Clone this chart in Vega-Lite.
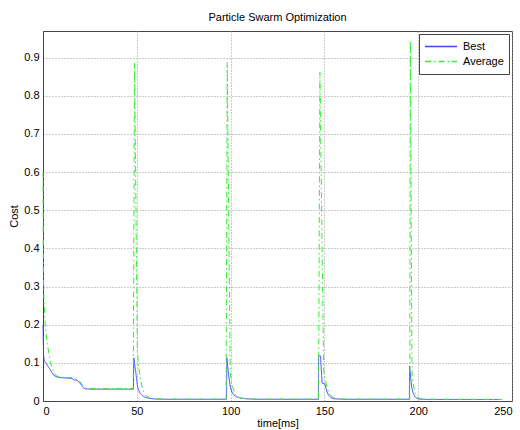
{
  "$schema": "https://vega.github.io/schema/vega-lite/v6.json",
  "width": 469,
  "height": 370,
  "autosize": {"type": "none"},
  "padding": {"left": 43, "top": 31, "right": 8, "bottom": 29},
  "background": "white",
  "title": {"text": "Particle Swarm Optimization", "font": "Liberation Sans", "fontSize": 11, "fontWeight": "normal", "color": "#000000", "anchor": "middle", "offset": 8},
  "config": {
    "view": {"stroke": "#444444", "strokeWidth": 1},
    "axis": {
      "labelFont": "Liberation Sans", "labelFontSize": 11, "labelColor": "#000000",
      "titleFont": "Liberation Sans", "titleFontSize": 11, "titleFontWeight": "normal", "titleColor": "#000000",
      "domainColor": "#444444", "domainWidth": 1,
      "ticks": false, "tickSize": 0, "labelPadding": 4,
      "grid": true, "gridColor": "#999999", "gridDash": [1, 2], "gridWidth": 1, "gridOpacity": 1
    },
    "legend": {
      "orient": "top-right", "offset": 3, "title": null, "padding": 5,
      "strokeColor": "#444444", "fillColor": "#ffffff",
      "symbolType": "stroke", "symbolSize": 1024, "symbolStrokeWidth": 1.3,
      "labelFont": "Liberation Sans", "labelFontSize": 11, "labelColor": "#000000",
      "labelOffset": 5, "clipHeight": 15, "rowPadding": 0
    }
  },
  "data": {"values": [
    {"series": "Best", "t": 0, "cost": 0.2},
    {"series": "Best", "t": 0.3, "cost": 0.12},
    {"series": "Best", "t": 0.7, "cost": 0.105},
    {"series": "Best", "t": 1.5, "cost": 0.1},
    {"series": "Best", "t": 2.5, "cost": 0.092},
    {"series": "Best", "t": 3.5, "cost": 0.085},
    {"series": "Best", "t": 4.5, "cost": 0.076},
    {"series": "Best", "t": 5.5, "cost": 0.069},
    {"series": "Best", "t": 6.5, "cost": 0.065},
    {"series": "Best", "t": 7.5, "cost": 0.063},
    {"series": "Best", "t": 10, "cost": 0.061},
    {"series": "Best", "t": 13, "cost": 0.06},
    {"series": "Best", "t": 15.5, "cost": 0.059},
    {"series": "Best", "t": 16.2, "cost": 0.056},
    {"series": "Best", "t": 17.5, "cost": 0.055},
    {"series": "Best", "t": 18.5, "cost": 0.053},
    {"series": "Best", "t": 19.5, "cost": 0.048},
    {"series": "Best", "t": 20.5, "cost": 0.042},
    {"series": "Best", "t": 21.5, "cost": 0.035},
    {"series": "Best", "t": 22.5, "cost": 0.032},
    {"series": "Best", "t": 26, "cost": 0.031},
    {"series": "Best", "t": 48.2, "cost": 0.031},
    {"series": "Best", "t": 48.4, "cost": 0.113},
    {"series": "Best", "t": 49.0, "cost": 0.09},
    {"series": "Best", "t": 49.6, "cost": 0.07},
    {"series": "Best", "t": 50.2, "cost": 0.045},
    {"series": "Best", "t": 50.8, "cost": 0.03},
    {"series": "Best", "t": 51.8, "cost": 0.02},
    {"series": "Best", "t": 53, "cost": 0.014},
    {"series": "Best", "t": 54.5, "cost": 0.01},
    {"series": "Best", "t": 56.5, "cost": 0.007},
    {"series": "Best", "t": 60, "cost": 0.005},
    {"series": "Best", "t": 66, "cost": 0.0045},
    {"series": "Best", "t": 97.8, "cost": 0.0045},
    {"series": "Best", "t": 98.0, "cost": 0.113},
    {"series": "Best", "t": 98.8, "cost": 0.075},
    {"series": "Best", "t": 99.8, "cost": 0.037},
    {"series": "Best", "t": 100.7, "cost": 0.024},
    {"series": "Best", "t": 101.6, "cost": 0.016},
    {"series": "Best", "t": 103, "cost": 0.011},
    {"series": "Best", "t": 105.2, "cost": 0.008},
    {"series": "Best", "t": 108, "cost": 0.006},
    {"series": "Best", "t": 113, "cost": 0.0045},
    {"series": "Best", "t": 146.8, "cost": 0.0045},
    {"series": "Best", "t": 146.9, "cost": 0.119},
    {"series": "Best", "t": 147.9, "cost": 0.118},
    {"series": "Best", "t": 148.8, "cost": 0.047},
    {"series": "Best", "t": 150.3, "cost": 0.044},
    {"series": "Best", "t": 151, "cost": 0.03},
    {"series": "Best", "t": 152.2, "cost": 0.015},
    {"series": "Best", "t": 153.5, "cost": 0.009},
    {"series": "Best", "t": 155, "cost": 0.006},
    {"series": "Best", "t": 160, "cost": 0.0045},
    {"series": "Best", "t": 195.3, "cost": 0.0045},
    {"series": "Best", "t": 195.4, "cost": 0.092},
    {"series": "Best", "t": 196, "cost": 0.06},
    {"series": "Best", "t": 196.6, "cost": 0.035},
    {"series": "Best", "t": 197.3, "cost": 0.02},
    {"series": "Best", "t": 198.2, "cost": 0.012},
    {"series": "Best", "t": 199.2, "cost": 0.007},
    {"series": "Best", "t": 200.5, "cost": 0.005},
    {"series": "Best", "t": 205, "cost": 0.004},
    {"series": "Best", "t": 244.5, "cost": 0.004},
    {"series": "Average", "t": 0, "cost": 0.6},
    {"series": "Average", "t": 0.2, "cost": 0.34},
    {"series": "Average", "t": 0.5, "cost": 0.27},
    {"series": "Average", "t": 1.2, "cost": 0.2},
    {"series": "Average", "t": 2, "cost": 0.16},
    {"series": "Average", "t": 3, "cost": 0.128},
    {"series": "Average", "t": 4, "cost": 0.1},
    {"series": "Average", "t": 4.8, "cost": 0.087},
    {"series": "Average", "t": 5.8, "cost": 0.075},
    {"series": "Average", "t": 6.5, "cost": 0.068},
    {"series": "Average", "t": 8, "cost": 0.064},
    {"series": "Average", "t": 10, "cost": 0.062},
    {"series": "Average", "t": 15.5, "cost": 0.061},
    {"series": "Average", "t": 16.5, "cost": 0.058},
    {"series": "Average", "t": 18, "cost": 0.056},
    {"series": "Average", "t": 19.5, "cost": 0.052},
    {"series": "Average", "t": 20.5, "cost": 0.046},
    {"series": "Average", "t": 21.5, "cost": 0.038},
    {"series": "Average", "t": 22.5, "cost": 0.034},
    {"series": "Average", "t": 24, "cost": 0.033},
    {"series": "Average", "t": 48.1, "cost": 0.033},
    {"series": "Average", "t": 48.8, "cost": 0.886},
    {"series": "Average", "t": 50.3, "cost": 0.13},
    {"series": "Average", "t": 51, "cost": 0.09},
    {"series": "Average", "t": 52, "cost": 0.055},
    {"series": "Average", "t": 53, "cost": 0.033},
    {"series": "Average", "t": 54, "cost": 0.021},
    {"series": "Average", "t": 55, "cost": 0.014},
    {"series": "Average", "t": 57, "cost": 0.008},
    {"series": "Average", "t": 60, "cost": 0.006},
    {"series": "Average", "t": 66, "cost": 0.005},
    {"series": "Average", "t": 97.6, "cost": 0.005},
    {"series": "Average", "t": 98.2, "cost": 0.888},
    {"series": "Average", "t": 99.8, "cost": 0.075},
    {"series": "Average", "t": 100.7, "cost": 0.045},
    {"series": "Average", "t": 101.6, "cost": 0.029},
    {"series": "Average", "t": 102.5, "cost": 0.018},
    {"series": "Average", "t": 103.4, "cost": 0.011},
    {"series": "Average", "t": 105, "cost": 0.008},
    {"series": "Average", "t": 108, "cost": 0.006},
    {"series": "Average", "t": 113, "cost": 0.005},
    {"series": "Average", "t": 146.9, "cost": 0.005},
    {"series": "Average", "t": 147.6, "cost": 0.861},
    {"series": "Average", "t": 149.6, "cost": 0.08},
    {"series": "Average", "t": 150.5, "cost": 0.055},
    {"series": "Average", "t": 151.4, "cost": 0.037},
    {"series": "Average", "t": 152.2, "cost": 0.025},
    {"series": "Average", "t": 153.1, "cost": 0.016},
    {"series": "Average", "t": 155, "cost": 0.009},
    {"series": "Average", "t": 157, "cost": 0.006},
    {"series": "Average", "t": 162, "cost": 0.005},
    {"series": "Average", "t": 195.5, "cost": 0.005},
    {"series": "Average", "t": 195.8, "cost": 0.944},
    {"series": "Average", "t": 196.7, "cost": 0.07},
    {"series": "Average", "t": 197.5, "cost": 0.04},
    {"series": "Average", "t": 198.5, "cost": 0.02},
    {"series": "Average", "t": 199.5, "cost": 0.01},
    {"series": "Average", "t": 201, "cost": 0.006},
    {"series": "Average", "t": 205, "cost": 0.005},
    {"series": "Average", "t": 244.5, "cost": 0.004}
  ]},
  "mark": {"type": "line", "strokeWidth": 1, "interpolate": "linear"},
  "encoding": {
    "x": {"field": "t", "type": "quantitative", "scale": {"domain": [0, 250], "nice": false, "zero": false},
          "axis": {"title": "time[ms]", "values": [0, 50, 100, 150, 200, 250], "titlePadding": 1}},
    "y": {"field": "cost", "type": "quantitative", "scale": {"domain": [0, 0.97], "nice": false},
          "axis": {"title": "Cost", "values": [0, 0.1, 0.2, 0.3, 0.4, 0.5, 0.6, 0.7, 0.8, 0.9], "format": ".1~f", "titlePadding": 4}},
    "color": {"field": "series", "type": "nominal", "scale": {"domain": ["Best", "Average"], "range": ["#4444ff", "#33ee33"]},
              "legend": {"encode": {"symbols": {"update": {
                "strokeDash": {"signal": "datum.value === 'Average' ? [6, 3, 1.5, 3] : [1, 0]"},
                "stroke": {"signal": "datum.value === 'Average' ? '#33ee33' : '#4444ff'"},
                "opacity": {"value": 1}
              }}}}},
    "strokeDash": {"field": "series", "type": "nominal", "scale": {"domain": ["Best", "Average"], "range": [[1, 0], [6, 3, 1.5, 3]]}, "legend": null}
  }
}
